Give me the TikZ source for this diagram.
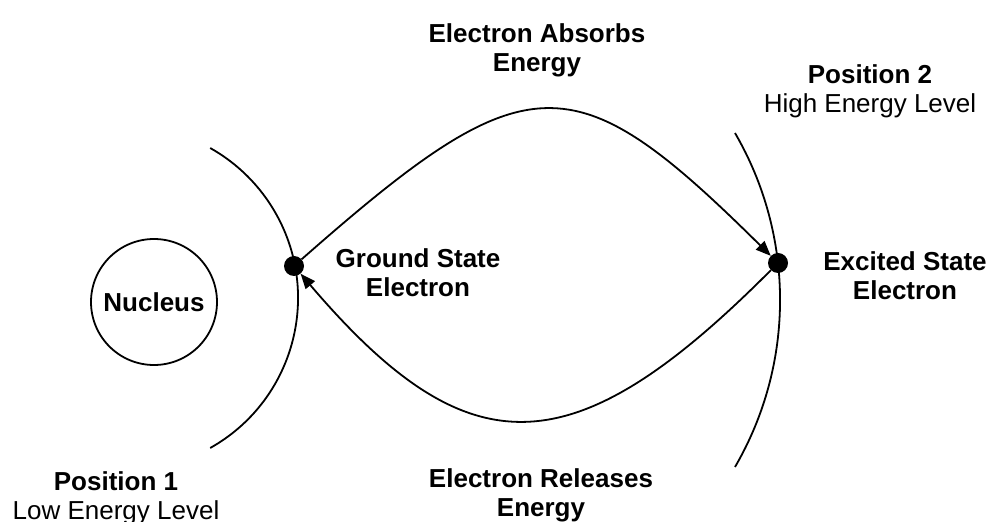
\documentclass[tikz,border=0pt]{standalone}
\usepackage{fontspec}
\setmainfont{Liberation Sans}
\usetikzlibrary{arrows.meta}
\begin{document}
\begin{tikzpicture}[x=1pt,y=1pt,
  line/.style={line width=1.8pt},
  conn/.style={line width=1.8pt,-{Triangle[length=15pt,width=12pt]}},
  dot/.style={circle,fill=black,inner sep=0pt,minimum size=20pt},
  lbl/.style={align=center,inner sep=0pt,anchor=north,font=\fontsize{26}{29}\selectfont},
  boldlbl/.style={lbl,font=\fontsize{26}{29}\selectfont\bfseries}]
\useasboundingbox (0,0) rectangle (991,522);
% nucleus
\node[draw,circle,line width=1.8pt,minimum size=126pt,inner sep=0pt,
      font=\fontsize{26}{29}\selectfont\bfseries] (nucleus) at (154,220) {Nucleus};
% orbits
\draw[line] (210.2,74) arc[start angle=-60.7,end angle=60.7,radius=172pt];
\draw[line] (735,55) arc[start angle=-30.2,end angle=30.2,radius=332pt];
% electrons
\node[dot] (ground) at (294,256) {};
\node[dot] (excited) at (778,259) {};
% transitions
\draw[conn] (ground) .. controls (528,462) and (573,462) .. (excited);
\draw[conn] (excited) .. controls (572,52) and (468,52) .. (ground);
% labels
\node[boldlbl] (absorb) at (537,499) {Electron Absorbs\\Energy};
\node[lbl] (pos2) at (870,458) {\textbf{Position 2}\\High Energy Level};
\node[boldlbl] (gslbl) at (418,274) {Ground State\\Electron};
\node[boldlbl] (exlbl) at (905,271) {Excited State\\Electron};
\node[boldlbl] (release) at (541,54) {Electron Releases\\Energy};
\node[lbl] (pos1) at (116,51) {\textbf{Position 1}\\Low Energy Level};
\end{tikzpicture}
\end{document}
